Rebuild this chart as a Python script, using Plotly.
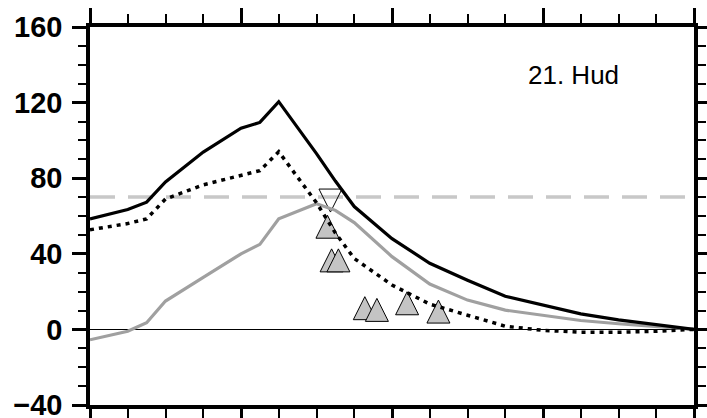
import plotly.graph_objects as go

# ---- data ----
x_lines = [0, 1, 1.5, 2, 3, 4, 4.5, 5, 6, 6.5, 7, 8, 9, 10, 11, 12, 13, 14, 15, 16]
solid_black = [58.5, 63.4, 67.3, 78, 93.8, 106.5, 109.5, 120.5, 93, 78.5, 65, 48, 35, 26, 17.5, 12.8, 8.2, 5, 2.5, 0]
dotted_black = [52.7, 56, 58.5, 69, 76.5, 81.5, 84, 94, 67, 51, 37.5, 23.5, 13.4, 7.5, 1.7, -0.5, -1.5, -1.5, -1, 0]
gray_line = [-5.5, -1, 3.5, 15, 27.5, 40, 45, 58.5, 66.5, 63, 56.5, 38.5, 24, 15.5, 10.2, 7.4, 4.7, 3, 1.5, 0]

obs_up_x = [6.29, 6.40, 6.58, 7.28, 7.60, 8.40, 9.23]
obs_up_y = [52.3, 34.5, 34.5, 9.2, 8.3, 11.8, 7.4]
obs_down_x = [6.37]
obs_down_y = [70.2]

threshold = 70
x_range = [0, 16]
y_range = [-40, 160]
label = "21. Hud"

# ---- figure ----
fig = go.Figure()

# threshold dashed line
fig.add_trace(go.Scatter(x=x_range, y=[threshold, threshold], mode="lines",
                         line=dict(color="#c8c8c8", width=3.5, dash="25px,13px"),
                         hoverinfo="skip", showlegend=False))

r = 11.5
fig.add_trace(go.Scatter(x=obs_up_x, y=obs_up_y, mode="markers",
                         marker=dict(symbol="arrow-down", angle=180, standoff=4 * r / 3,
                                     size=2 * r, color="#c4c4c4",
                                     line=dict(color="black", width=1)),
                         showlegend=False))
fig.add_trace(go.Scatter(x=obs_down_x, y=obs_down_y, mode="markers",
                         marker=dict(symbol="arrow-down", angle=0, standoff=4 * r / 3,
                                     size=2 * r, color="rgba(255,255,255,0)",
                                     line=dict(color="black", width=1)),
                         showlegend=False))

fig.add_trace(go.Scatter(x=x_lines, y=gray_line, mode="lines",
                         line=dict(color="#a0a0a0", width=3.2), showlegend=False))
fig.add_trace(go.Scatter(x=x_lines, y=dotted_black, mode="lines",
                         line=dict(color="black", width=3.5, dash="4px,5px"), showlegend=False))
fig.add_trace(go.Scatter(x=x_lines, y=solid_black, mode="lines",
                         line=dict(color="black", width=3.2), showlegend=False))

fig.add_annotation(x=0.80, y=0.873, xref="paper", yref="paper", text=label,
                   xanchor="center", yanchor="middle",
                   showarrow=False, font=dict(family="Liberation Sans, Arial", size=26, color="black"))

fig.update_xaxes(range=x_range, showgrid=False, zeroline=False, automargin=False,
                 showline=True, linecolor="black", linewidth=3.5, mirror="allticks",
                 ticks="outside", tickmode="linear", tick0=0, dtick=4, ticklen=15, tickwidth=2.5,
                 tickcolor="black", showticklabels=False,
                 minor=dict(ticks="outside", tickmode="linear", tick0=0, dtick=1, ticklen=9,
                            tickwidth=2, tickcolor="black", showgrid=False))
fig.update_yaxes(range=y_range, showgrid=False, zeroline=True, zerolinecolor="black", zerolinewidth=1,
                 automargin=False, ticklabeloverflow="allow",
                 showline=True, linecolor="black", linewidth=3.5, mirror="allticks",
                 ticks="outside", tickmode="linear", tick0=0, dtick=40, ticklen=14, tickwidth=2.5,
                 tickcolor="black", ticklabelstandoff=4,
                 tickfont=dict(family="Liberation Sans, Arial", size=29, color="black", weight="bold"),
                 minor=dict(ticks="outside", tickmode="linear", tick0=0, dtick=10, ticklen=8,
                            tickwidth=2, tickcolor="black", showgrid=False))

fig.update_layout(width=707, height=418, margin=dict(l=90, r=13, t=27, b=13),
                  plot_bgcolor="white", paper_bgcolor="white", showlegend=False)

fig.write_html("out.html")
